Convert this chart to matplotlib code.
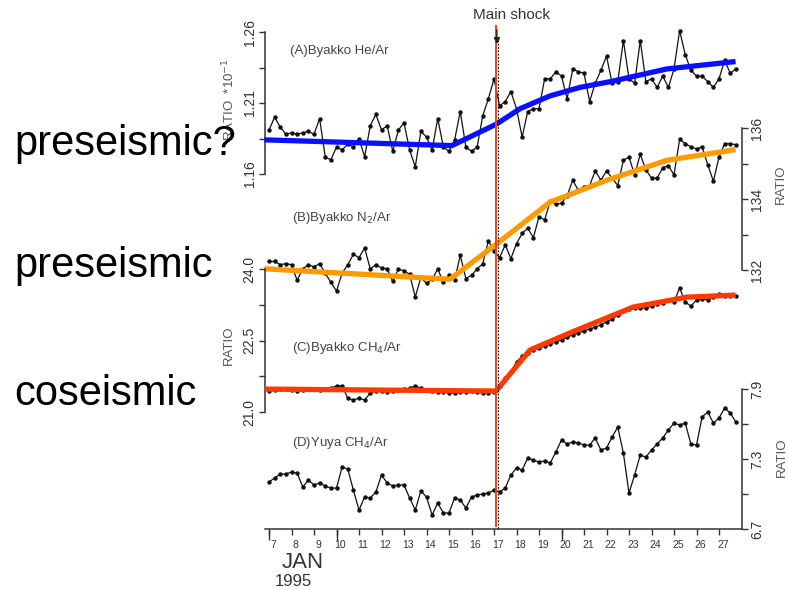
import matplotlib
matplotlib.use('Agg')
import matplotlib.pyplot as plt
import numpy as np
from matplotlib.transforms import ScaledTranslation

plt.rcParams['font.family'] = ['Liberation Sans', 'DejaVu Sans']

W, H = 788, 590

# 6-hourly samples, 7 Jan .. 27.75 Jan 1995
days = np.arange(7, 28, 0.25)

he_ar = [1.191, 1.200, 1.193, 1.188, 1.189, 1.188, 1.189, 1.190, 1.188, 1.199,
         1.172, 1.170, 1.179, 1.177, 1.181, 1.179, 1.185, 1.172, 1.194, 1.202,
         1.191, 1.194, 1.176, 1.191, 1.196, 1.177, 1.165, 1.190, 1.186, 1.177,
         1.199, 1.179, 1.176, 1.184, 1.204, 1.179, 1.176, 1.179, 1.201, 1.213,
         1.227, 1.208, 1.211, 1.218,
         1.206, 1.186, 1.204, 1.206, 1.206, 1.227, 1.227, 1.232, 1.229, 1.213,
         1.234, 1.232, 1.231, 1.211, 1.224, 1.233, 1.243, 1.224, 1.225, 1.254,
         1.227, 1.224, 1.254, 1.225, 1.227, 1.221, 1.229, 1.221, 1.234, 1.261,
         1.244, 1.233, 1.229, 1.229, 1.225, 1.221, 1.227, 1.240, 1.231, 1.234]

n2_ar = [132.24, 132.24, 132.15, 132.18, 132.15, 131.71, 132.03, 132.15, 132.09, 132.18,
         131.91, 131.65, 131.41, 131.91, 132.15, 132.44, 132.35, 132.62, 132.03, 132.15,
         132.06, 132.03, 131.68, 132.03, 131.97, 131.88, 131.24, 131.79, 131.62, 131.74,
         132.03, 131.65, 131.85, 131.71, 132.41, 131.76, 131.85, 132.03, 132.18, 132.82,
         132.53, 132.35, 132.71, 132.32,
         132.74, 133.03, 133.18, 132.91, 133.50, 133.41, 133.94, 133.85, 133.88, 134.09,
         134.53, 134.24, 134.35, 134.38, 134.79, 134.53, 134.79, 134.59, 134.38, 135.09,
         135.18, 134.68, 135.26, 134.82, 134.59, 134.59, 134.88, 134.94, 134.68, 135.68,
         135.56, 135.47, 135.41, 135.47, 134.97, 134.50, 135.18, 135.56, 135.56, 135.53]

ch4_byakko = [21.44, 21.46, 21.48, 21.48, 21.46, 21.44, 21.46, 21.48, 21.48, 21.46,
              21.48, 21.50, 21.55, 21.55, 21.29, 21.25, 21.29, 21.25, 21.40, 21.44,
              21.44, 21.42, 21.44, 21.46, 21.48, 21.50, 21.55, 21.50, 21.46, 21.44,
              21.42, 21.42, 21.40, 21.40, 21.42, 21.42, 21.44, 21.42, 21.40, 21.40,
              21.42, 21.55, 21.71, 21.84,
              22.05, 22.17, 22.24, 22.30, 22.34, 22.38, 22.43, 22.47, 22.51, 22.57,
              22.62, 22.66, 22.70, 22.74, 22.78, 22.83, 22.89, 22.95, 23.03, 23.12,
              23.16, 23.18, 23.18, 23.18, 23.22, 23.27, 23.29, 23.35, 23.31, 23.60,
              23.31, 23.22, 23.35, 23.37, 23.35, 23.41, 23.48, 23.43, 23.43, 23.43]

ch4_yuya = [7.103, 7.137, 7.171, 7.171, 7.188, 7.180, 7.060, 7.120, 7.077, 7.094,
            7.068, 7.051, 7.051, 7.231, 7.214, 7.034, 6.863, 6.974, 6.966, 7.017,
            7.163, 7.094, 7.068, 7.077, 7.077, 6.966, 6.863, 7.026, 6.974, 6.820,
            6.923, 6.837, 6.837, 6.966, 6.949, 6.880, 6.974, 6.991, 7.000, 7.008,
            7.034, 7.017, 7.051, 7.163,
            7.223, 7.206, 7.308, 7.291, 7.274, 7.283, 7.266, 7.360, 7.463, 7.428,
            7.446, 7.437, 7.420, 7.420, 7.480, 7.377, 7.394, 7.488, 7.574, 7.351,
            7.008, 7.163, 7.334, 7.317, 7.377, 7.428, 7.480, 7.548, 7.608, 7.591,
            7.608, 7.428, 7.420, 7.660, 7.703, 7.608, 7.651, 7.737, 7.694, 7.617]

# hand-drawn trend lines laid over the records
he_fit_days = [6.91, 15.13, 17.09, 18.16, 19.49, 20.82, 22.16, 24.69, 27.62]
he_fit = [1.184, 1.180, 1.195, 1.206, 1.215, 1.221, 1.225, 1.234, 1.239]
n2_fit_days = [6.91, 15.04, 17.13, 19.49, 22.02, 24.69, 27.62]
n2_fit = [132.03, 131.74, 132.74, 133.91, 134.53, 135.09, 135.38]
ch4_fit_days = [6.96, 17.09, 18.60, 20.38, 23.18, 25.58, 27.62]
ch4_fit = [21.48, 21.44, 22.30, 22.66, 23.20, 23.41, 23.45]

tick_days = list(range(7, 28))
main_shock_day = 17.09

GRAY = '#333333'
X0, X1 = 265, 741.5
XLIM = (6.822, 28.0)


def fx(px):
    return px / W


def fy(py):
    return 1 - py / H


fig = plt.figure(figsize=(W / 100, H / 100), dpi=100)


def panel(top, bottom, ylim, side, ticks, labels):
    ax = fig.add_axes([fx(X0), fy(bottom), (X1 - X0) / W, (bottom - top) / H])
    ax.set_xlim(XLIM)
    ax.set_ylim(ylim)
    ax.patch.set_alpha(0)
    for s in ax.spines.values():
        s.set_visible(False)
    ax.spines[side].set_visible(True)
    ax.spines[side].set_color(GRAY)
    ax.spines[side].set_linewidth(1.1)
    ax.set_xticks([])
    if side == 'right':
        ax.yaxis.tick_right()
    ax.set_yticks(ticks)
    ax.set_yticklabels(labels)
    ax.tick_params(axis='y', direction='out', length=4, width=1, color=GRAY,
                   labelsize=10, labelcolor=GRAY, pad=2)
    for t in ax.get_yticklabels():
        t.set_rotation(90)
        t.set_va('center')
        t.set_ha('left' if side == 'right' else 'right')
    return ax


def series(ax, y):
    ax.plot(days, y, color='#111111', lw=0.9, marker='o', ms=2.2, clip_on=False)


axA = panel(32, 174, (1.16, 1.26), 'left',
            [1.16, 1.185, 1.21, 1.235, 1.26], ['1.16', '', '1.21', '', '1.26'])
axB = panel(128, 270, (132, 136), 'right',
            [132, 133, 134, 135, 136], ['132', '', '134', '', '136'])
axC = panel(269, 412, (21.0, 24.0), 'left',
            [21.0, 21.75, 22.5, 23.25, 24.0], ['21.0', '', '22.5', '', '24.0'])
axD = panel(389, 529, (6.7, 7.9), 'right',
            [6.7, 7.0, 7.3, 7.6, 7.9], ['6.7', '', '7.3', '', '7.9'])

series(axA, he_ar)
series(axB, n2_ar)
series(axC, ch4_byakko)
series(axD, ch4_yuya)

axA.plot(he_fit_days, he_fit, color='#0a10ff', lw=3.8, clip_on=False, zorder=5)
axB.plot(n2_fit_days, n2_fit, color='#ff9a00', lw=3.8, clip_on=False, zorder=5)
axC.plot(ch4_fit_days, ch4_fit, color='#ff3a00', lw=3.8, clip_on=False, zorder=5)

# time axis on the bottom panel
axD.spines['bottom'].set_visible(True)
axD.spines['bottom'].set_color(GRAY)
axD.spines['bottom'].set_linewidth(1.1)
axD.set_xticks(tick_days)
axD.set_xticklabels([str(d) for d in tick_days])
axD.xaxis.remove_overlapping_locs = False
axD.set_xticks([7, 10, 20], minor=True)
axD.tick_params(axis='x', which='major', direction='out', length=4.5, width=1,
                color=GRAY, labelsize=7.5, labelcolor=GRAY, pad=3.5)
axD.tick_params(axis='x', which='minor', direction='out', length=8, width=1, color=GRAY)
shift = ScaledTranslation(4 / 100, 0, fig.dpi_scale_trans)
for t in axD.get_xticklabels():
    t.set_transform(t.get_transform() + shift)

# main shock marker
ov = fig.add_axes([fx(X0), 0, (X1 - X0) / W, 1])
ov.set_xlim(XLIM)
ov.set_ylim(H, 0)
ov.axis('off')
ov.plot([main_shock_day + 0.09] * 2, [40, 529], color='k', lw=0.8, ls=(0, (1.5, 1.5)))
ov.plot([main_shock_day] * 2, [26, 526], color='#ff3a10', lw=1.4)
ov.annotate('', xy=(main_shock_day + 0.04, 47), xytext=(main_shock_day + 0.04, 27),
            arrowprops=dict(arrowstyle='-|>', color='#222222', lw=1, mutation_scale=9))
fig.text(fx(512), fy(15), 'Main shock', fontsize=11, color=GRAY, ha='center', va='center')

# panel titles and axis labels
lab = dict(fontsize=9.5, color='#444444', va='center', ha='left')
fig.text(fx(290), fy(51), '(A)Byakko He/Ar', **lab)
fig.text(fx(292), fy(218), '(B)Byakko N$_2$/Ar', **lab)
fig.text(fx(292), fy(348), '(C)Byakko CH$_4$/Ar', **lab)
fig.text(fx(292), fy(443), '(D)Yuya CH$_4$/Ar', **lab)

rl = dict(fontsize=9.5, color='#555555', rotation=90, ha='center', va='center')
fig.text(fx(229), fy(100), 'RATIO  *10$^{-1}$', **rl)
fig.text(fx(229), fy(345), 'RATIO', **rl)
fig.text(fx(781), fy(184), 'RATIO', **rl)
fig.text(fx(782), fy(457), 'RATIO', **rl)

fig.text(fx(282), fy(563), 'JAN', fontsize=16, color=GRAY, ha='left', va='center')
fig.text(fx(275), fy(582), '1995', fontsize=12, color=GRAY, ha='left', va='center')

# annotations added on top of the figure
big = dict(fontsize=30, color='black', ha='left', va='baseline')
fig.text(fx(14), fy(155), 'preseismic?', **big)
fig.text(fx(14), fy(277), 'preseismic', **big)
fig.text(fx(14), fy(405), 'coseismic', **big)

fig.savefig('out.png', dpi=100)
